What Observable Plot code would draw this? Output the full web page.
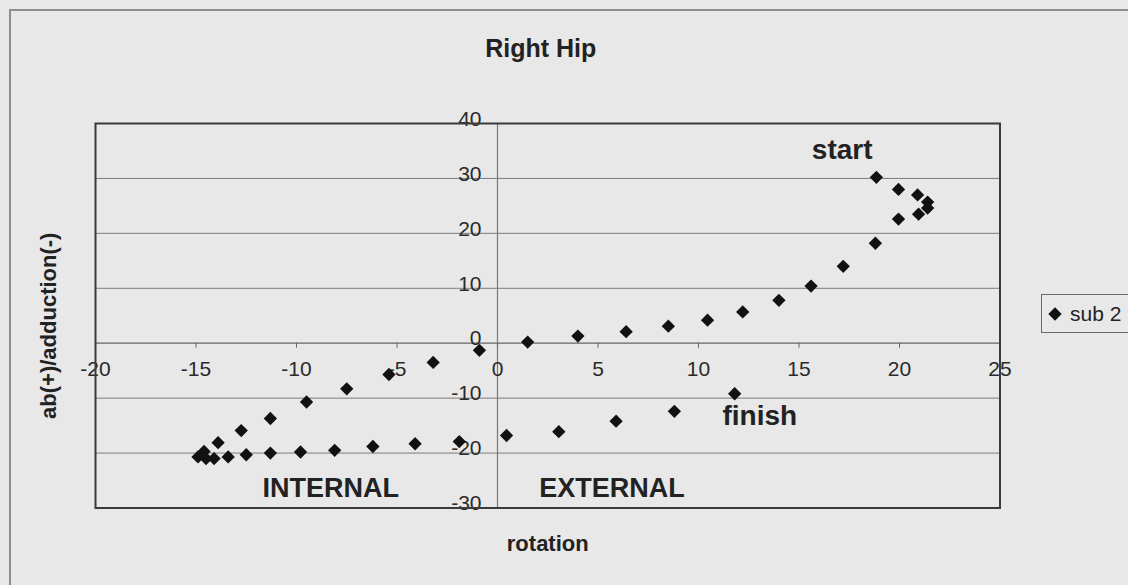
<!DOCTYPE html>
<html><head><meta charset="utf-8">
<script src="https://cdn.jsdelivr.net/npm/d3@7"></script>
<script src="https://cdn.jsdelivr.net/npm/@observablehq/plot@0.6"></script>
<style>
html,body{margin:0;padding:0;background:#e8e8e8;overflow:hidden;width:1128px;height:585px}
#wrap{position:relative;width:1128px;height:585px;overflow:hidden}
#border{position:absolute;left:9px;top:9px;width:1200px;height:700px;border-top:2px solid #8e8e8e;border-left:2px solid #8e8e8e}
#chart{position:absolute;left:0;top:0}
#legend{position:absolute;left:1041px;top:294px;width:130px;height:37px;border:1px solid #6a6a6a;font:21px "Liberation Sans",Arial,sans-serif;color:#222;display:flex;align-items:center}
#legend svg{margin-left:5px;margin-right:7px}
</style></head><body><div id="wrap"><div id="border"></div><div id="chart"></div><div id="legend"></div></div>
<script>
// ---- data (start -> finish) ----
const rotation = [18.85, 19.95, 20.9, 21.4, 21.4, 20.95, 19.95, 18.8, 17.2, 15.6, 14.0, 12.2, 10.45, 8.5, 6.4, 4.0, 1.5,
  -0.9, -3.2, -5.4, -7.5, -9.5, -11.3, -12.75, -13.9, -14.6, -14.9, -14.5, -14.1, -13.4, -12.5, -11.3, -9.8, -8.1, -6.2, -4.1, -1.9,
  0.45, 3.05, 5.9, 8.8, 11.8];
const abduction = [30.2, 28.0, 27.0, 25.7, 24.6, 23.5, 22.6, 18.2, 14.0, 10.4, 7.8, 5.7, 4.2, 3.1, 2.1, 1.3, 0.2,
  -1.3, -3.5, -5.7, -8.3, -10.7, -13.7, -15.9, -18.1, -19.7, -20.7, -21.0, -21.0, -20.7, -20.3, -20.0, -19.8, -19.5, -18.8, -18.3, -17.9,
  -16.8, -16.1, -14.2, -12.4, -9.2];
const seriesName = "sub 2";
const xTicks = [-20, -15, -10, -5, 0, 5, 10, 15, 20, 25];
const yTicks = [-30, -20, -10, 0, 10, 20, 30, 40];
const yGrid = [-20, -10, 10, 20, 30];
const chartTitle = "Right Hip";
const xTitle = "rotation";
const yTitle = "ab(+)/adduction(-)";
const noteLabels = ["start", "finish", "INTERNAL", "EXTERNAL"];
const noteX = [17.15, 13.05, -8.3, 5.7];
const noteY = [33.5, -14.8, -28.0, -28.0];

const font = "'Liberation Sans', Arial, sans-serif";
const points = rotation.map((x, i) => ({x, y: abduction[i], s: seriesName}));
const notes = noteLabels.map((t, i) => ({t, x: noteX[i], y: noteY[i]}));

const plot = Plot.plot({
  width: 1128, height: 585,
  marginLeft: 95, marginRight: 128.5, marginTop: 123, marginBottom: 77.5,
  style: {background: "transparent", fontFamily: font, color: "#222", overflow: "visible"},
  x: {domain: [-20, 25], axis: null},
  y: {domain: [-30, 40], axis: null},
  marks: [
    Plot.ruleY(yGrid, {y: d => d, stroke: "#7c7c7c", strokeWidth: 1}),
    Plot.ruleY([0], {y: d => d, stroke: "#666", strokeWidth: 1.2}),
    Plot.ruleX([0], {x: d => d, stroke: "#777", strokeWidth: 1.2}),
    Plot.ruleX(xTicks, {x: d => d, y1: 0, y2: 0, insetBottom: -5, stroke: "#666"}),
    Plot.text(xTicks, {x: d => d, y: 0, text: d => String(d), dy: 26, fontSize: 21, fill: "#2a2a2a"}),
    Plot.text(yTicks, {x: 0, y: d => d, text: d => String(d), dx: -16, dy: -4.5, textAnchor: "end", fontSize: 21, fill: "#2a2a2a"}),
    Plot.frame({stroke: "#3a3a3a", strokeWidth: 2}),
    Plot.dot(points, {x: "x", y: "y", symbol: "diamond2", r: 6, fill: "#111", stroke: "none"}),
    Plot.text(notes, {x: "x", y: "y", text: "t", lineAnchor: "bottom", fontSize: d => d.t.length > 6 ? 27 : 28, fontWeight: "bold", fill: "#222"}),
    Plot.text([chartTitle], {frameAnchor: "top", dx: -7, dy: -67, textAnchor: "middle", lineAnchor: "bottom", fontSize: 25, fontWeight: "bold", fill: "#222"}),
    Plot.text([xTitle], {frameAnchor: "bottom", dx: 0, dy: 42.5, textAnchor: "middle", lineAnchor: "bottom", fontSize: 22, fontWeight: "bold", fill: "#222"}),
    Plot.text([yTitle], {frameAnchor: "left", dx: -40, dy: 10, rotate: -90, textAnchor: "middle", lineAnchor: "bottom", fontSize: 22, fontWeight: "bold", fill: "#222"})
  ]
});
document.getElementById("chart").appendChild(plot);

// legend
const lg = d3.select("#legend");
const sw = lg.append("svg").attr("width", 16).attr("height", 16);
sw.append("path").attr("d", d3.symbol(d3.symbolDiamond2, Math.PI * 36)()).attr("transform", "translate(8,8)").attr("fill", "#111");
lg.append("span").text(seriesName);
</script></body></html>
